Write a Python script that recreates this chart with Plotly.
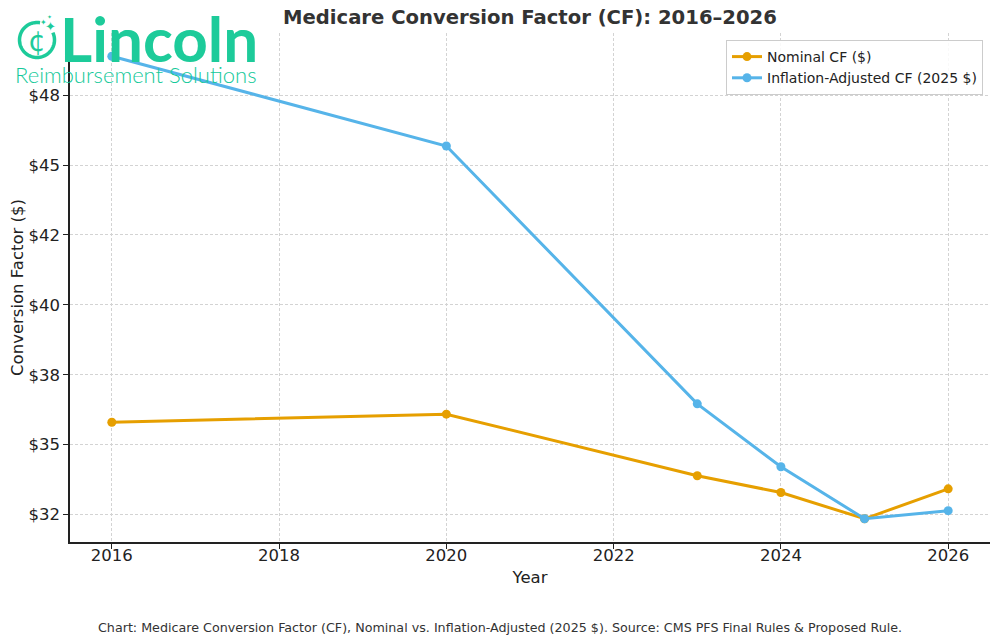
import numpy as np
import plotly.graph_objects as go

years = [2016, 2020, 2023, 2024, 2025, 2026]
nominal_cf = [35.80, 36.09, 33.89, 33.29, 32.35, 33.42]
adjusted_cf = [48.89, 45.68, 36.46, 34.21, 32.35, 32.64]
y_ticks = [32.5, 35.0, 37.5, 40.0, 42.5, 45.0, 47.5]
y_tick_labels = [f"${v:.0f}" for v in y_ticks]
x_ticks = [2016, 2018, 2020, 2022, 2024, 2026]

ORANGE = "#E69F00"
BLUE = "#56B4E9"
GREEN = "#1DCB9A"

W, H = 1000, 644
L, R, T, B = 70, 10, 33, 102
PW, PH = W - L - R, H - T - B


def px(x):
    return (x - L) / PW


def py(y):
    return (H - B - y) / PH


fig = go.Figure()
fig.add_trace(go.Scatter(
    x=years, y=nominal_cf, mode="lines+markers", name="Nominal CF ($)",
    line=dict(color=ORANGE, width=3), marker=dict(size=9, color=ORANGE)))
fig.add_trace(go.Scatter(
    x=years, y=adjusted_cf, mode="lines+markers", name="Inflation-Adjusted CF (2025 $)",
    line=dict(color=BLUE, width=3), marker=dict(size=9, color=BLUE)))

axis_common = dict(
    showline=True, linecolor="#222", linewidth=1.5, mirror=False,
    ticks="outside", ticklen=5, tickwidth=1.3, tickcolor="#222",
    showgrid=True, gridcolor="#d3d3d3", gridwidth=1, griddash="3px,2px",
    zeroline=False, tickfont=dict(family="DejaVu Sans", size=16.5, color="#222"),
)

fig.update_xaxes(range=[2015.5, 2026.5], tickvals=x_ticks, ticklabelstandoff=-8,
                 title=dict(text="Year", font=dict(family="DejaVu Sans", size=16.5, color="#222"), standoff=8),
                 **axis_common)
fig.update_yaxes(range=[31.52, 49.72], tickvals=y_ticks, ticktext=y_tick_labels,
                 title=dict(text="Conversion Factor ($)", font=dict(family="DejaVu Sans", size=16.5, color="#222"), standoff=1),
                 **axis_common)

# logo icon: open ring
cx, cy, r = 37, 40, 17.5
ang = np.linspace(np.deg2rad(80), np.deg2rad(80 + 305), 70)
pts = [(r * np.cos(a), r * np.sin(a)) for a in ang]
path = "M " + " L ".join(f"{x:.2f},{y:.2f}" for x, y in pts)
fig.add_shape(type="path", path=path, xref="paper", yref="paper",
              xsizemode="pixel", ysizemode="pixel", xanchor=px(cx), yanchor=py(cy),
              line=dict(color=GREEN, width=3.5))

annotations = [
    dict(text="¢", x=px(cx), y=py(cy + 1), xanchor="center", yanchor="middle",
         font=dict(family="DejaVu Sans", size=28, color=GREEN)),
    dict(text="✦", x=px(50), y=py(27), xanchor="center", yanchor="middle",
         font=dict(family="DejaVu Sans", size=13, color=GREEN)),
    dict(text="✦", x=px(43), y=py(22), xanchor="center", yanchor="middle",
         font=dict(family="DejaVu Sans", size=8, color=GREEN)),
    dict(text="✦", x=px(49), y=py(17), xanchor="center", yanchor="middle",
         font=dict(family="DejaVu Sans", size=6, color=GREEN)),
    dict(text="<b>Lincoln</b>", x=px(58), y=py(38), xanchor="left", yanchor="middle",
         font=dict(family="Lato", size=62, color=GREEN)),
    dict(text="Reimbursement Solutions", x=px(13), y=py(74), xanchor="left", yanchor="middle",
         font=dict(family="Lato", size=22, color="#14C99A", weight=300)),
    dict(text="<b>Medicare Conversion Factor (CF): 2016–2026</b>", x=px(530), y=py(18),
         xanchor="center", yanchor="middle",
         font=dict(family="DejaVu Sans", size=19.6, color="#333")),
    dict(text="Chart: Medicare Conversion Factor (CF), Nominal vs. Inflation-Adjusted (2025 $). Source: CMS PFS Final Rules & Proposed Rule.",
         x=px(500), y=py(627), xanchor="center", yanchor="middle",
         font=dict(family="DejaVu Sans", size=12.7, color="#333")),
]
for a in annotations:
    a.update(xref="paper", yref="paper", showarrow=False)
fig.update_layout(annotations=annotations)

fig.update_layout(
    width=W, height=H, margin=dict(l=L, r=R, t=T, b=B),
    paper_bgcolor="white", plot_bgcolor="white",
    legend=dict(x=px(983), y=py(40), xanchor="right", yanchor="top",
                bgcolor="rgba(255,255,255,0.85)", bordercolor="#cccccc", borderwidth=1,
                font=dict(family="DejaVu Sans", size=14, color="#222"),
                itemwidth=30, tracegroupgap=0),
    showlegend=True,
)

fig.write_html("out.html", config={"displayModeBar": False},
               post_script="document.body.style.margin='0';document.body.style.padding='0';")
